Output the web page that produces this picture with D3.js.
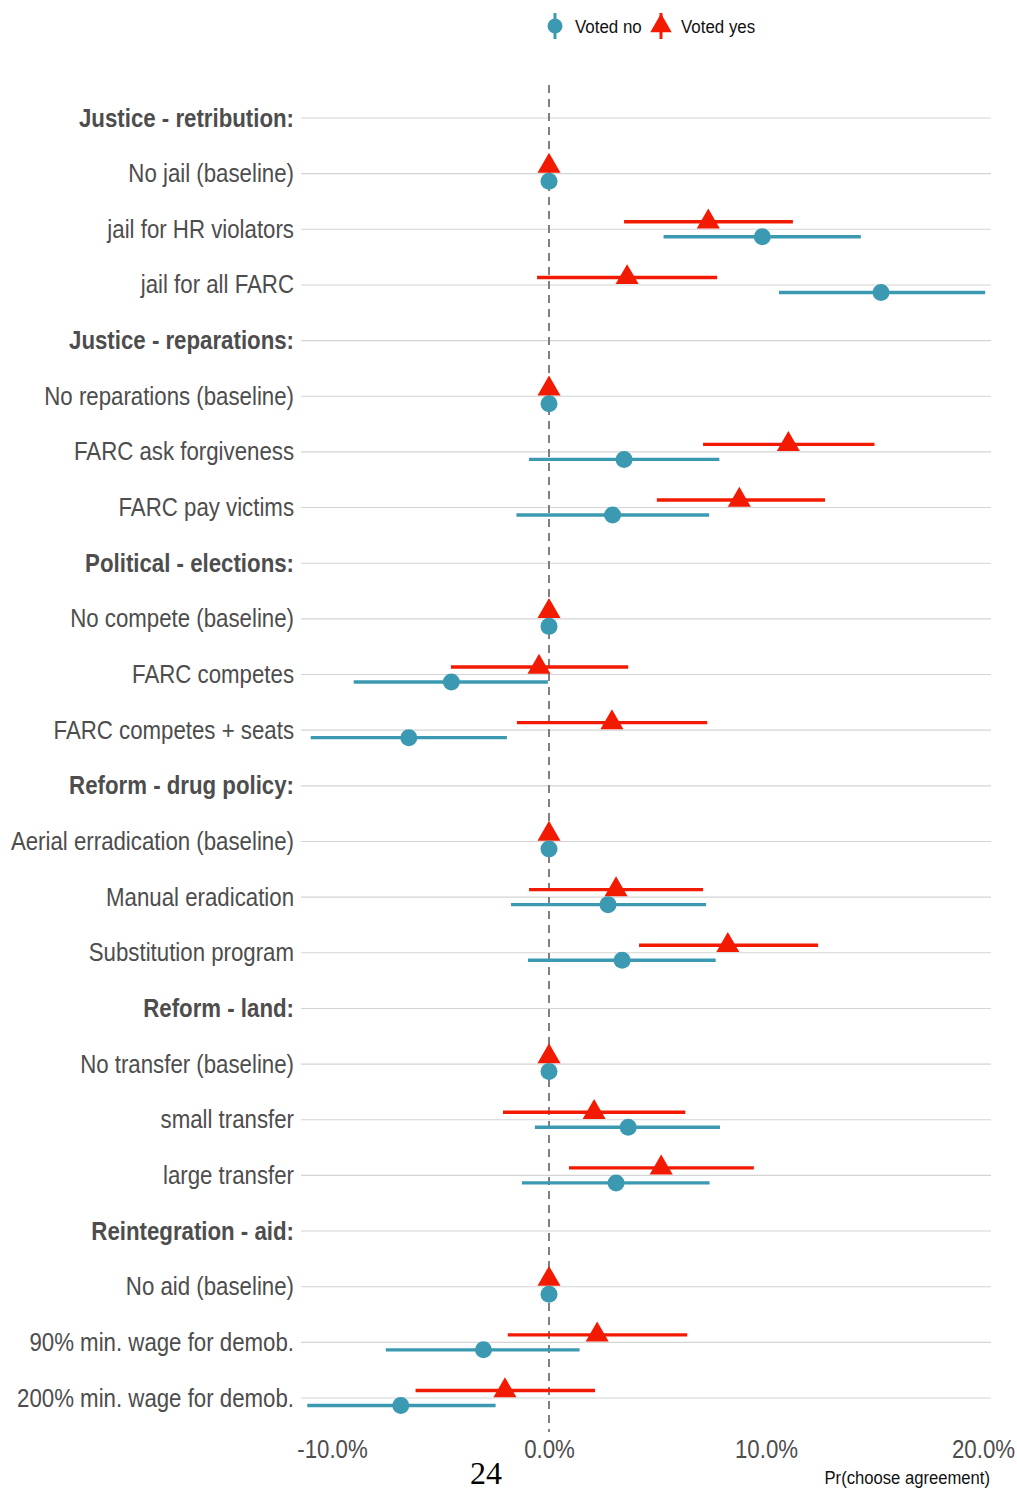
<!DOCTYPE html>
<html lang="en">
<head>
    <meta charset="UTF-8">
    <title>Pr(choose agreement) by vote</title>
    <script src="https://d3js.org/d3.v7.min.js"></script>
    <style>
        body {
            margin: 0;
            background-color: #ffffff;
        }
        svg text {
            font-family: "Liberation Sans Narrow", "Arial Narrow", "Liberation Sans", Arial, sans-serif;
        }
        .axis-y text {
            font-size: 25px;
            fill: #4d4d4d;
        }
        .axis-y .header {
            font-weight: bold;
        }
        .axis-x text {
            font-size: 25px;
            fill: #4d4d4d;
        }
        .grid line {
            stroke: #d4d4d4;
            stroke-width: 1.1;
        }
        .legend text {
            font-size: 19px;
            fill: #111111;
        }
    </style>
</head>
<body>
    <svg id="chart" width="1017" height="1491"></svg>

    <script>
        // rows of the chart, top to bottom (headers end with ":")
        const categories = [
            "Justice - retribution:", "No jail (baseline)", "jail for HR violators", "jail for all FARC",
            "Justice - reparations:", "No reparations (baseline)", "FARC ask forgiveness", "FARC pay victims",
            "Political - elections:", "No compete (baseline)", "FARC competes", "FARC competes + seats",
            "Reform - drug policy:", "Aerial erradication (baseline)", "Manual eradication", "Substitution program",
            "Reform - land:", "No transfer (baseline)", "small transfer", "large transfer",
            "Reintegration - aid:", "No aid (baseline)", "90% min. wage for demob.", "200% min. wage for demob."
        ];

        // Voted no (estimates and 95% interval, in %)
        const noEst = [null, 0, 9.83, 15.3, null, 0, 3.46, 2.93, null, 0, -4.5, -6.46,
                       null, 0, 2.72, 3.37, null, 0, 3.65, 3.09, null, 0, -3.02, -6.83];
        const noLo  = [null, 0, 5.28, 10.6, null, 0, -0.92, -1.5, null, 0, -9.0, -10.98,
                       null, 0, -1.75, -0.97, null, 0, -0.65, -1.25, null, 0, -7.52, -11.14];
        const noHi  = [null, 0, 14.37, 20.1, null, 0, 7.85, 7.38, null, 0, -0.05, -1.94,
                       null, 0, 7.24, 7.68, null, 0, 7.88, 7.4, null, 0, 1.41, -2.46];

        // Voted yes
        const yesEst = [null, 0, 7.34, 3.6, null, 0, 11.03, 8.77, null, 0, -0.46, 2.9,
                        null, 0, 3.09, 8.24, null, 0, 2.08, 5.17, null, 0, 2.22, -2.03];
        const yesLo  = [null, 0, 3.46, -0.55, null, 0, 7.1, 4.97, null, 0, -4.52, -1.48,
                        null, 0, -0.92, 4.15, null, 0, -2.12, 0.92, null, 0, -1.9, -6.15];
        const yesHi  = [null, 0, 11.24, 7.75, null, 0, 15.0, 12.72, null, 0, 3.65, 7.29,
                        null, 0, 7.1, 12.4, null, 0, 6.28, 9.44, null, 0, 6.37, 2.12];

        const xTicks = [-10, 0, 10, 20];
        const seriesNames = ["Voted no", "Voted yes"];
        const colors = {no: "#3B9AB2", yes: "#F21A00"};

        // no narrow font installed: squeeze the regular one horizontally
        const squeeze = 0.89;
        function narrow(sel, x0) {
            sel.attr("x", x0 / squeeze)
                .attr("transform", `scale(${squeeze},1)`);
        }

        const svg = d3.select("#chart");

        const x = d3.scaleLinear().domain([-10, 20]).range([332, 983]);
        const y = d3.scalePoint().domain(categories).range([118, 1398]);
        const dodge = 7.5;

        // horizontal grid lines
        svg.append("g")
            .attr("class", "grid")
            .selectAll("line")
            .data(categories)
          .enter().append("line")
            .attr("x1", 301)
            .attr("x2", 991)
            .attr("y1", d => y(d))
            .attr("y2", d => y(d));

        // zero line
        svg.append("line")
            .attr("x1", x(0)).attr("x2", x(0))
            .attr("y1", 85).attr("y2", 1432)
            .attr("stroke", "#7f7f7f")
            .attr("stroke-width", 2)
            .attr("stroke-dasharray", "8,6");

        // y axis labels
        const yAxis = svg.append("g")
            .attr("class", "axis-y")
            .attr("transform", "translate(301,0)")
            .call(d3.axisLeft(y).tickSize(0).tickPadding(7));
        yAxis.select(".domain").remove();
        yAxis.selectAll(".tick text")
            .classed("header", d => d.endsWith(":"))
            .call(narrow, -7);

        // x axis labels
        const xAxis = svg.append("g")
            .attr("class", "axis-x")
            .attr("transform", "translate(0,1432)")
            .call(d3.axisBottom(x).tickValues(xTicks).tickSize(0).tickPadding(8)
                .tickFormat(d => d.toFixed(1) + "%"));
        xAxis.select(".domain").remove();
        xAxis.selectAll(".tick text").call(narrow, 0);

        const rows = categories.map((c, i) => ({
            cat: c, noEst: noEst[i], noLo: noLo[i], noHi: noHi[i],
            yesEst: yesEst[i], yesLo: yesLo[i], yesHi: yesHi[i]
        })).filter(d => d.noEst !== null);

        const triangle = d3.symbol().type(d3.symbolTriangle).size(230);

        // Voted yes (red, upper)
        const gYes = svg.append("g");
        gYes.selectAll("line")
            .data(rows)
          .enter().append("line")
            .attr("x1", d => x(d.yesLo))
            .attr("x2", d => x(d.yesHi))
            .attr("y1", d => y(d.cat) - dodge)
            .attr("y2", d => y(d.cat) - dodge)
            .attr("stroke", colors.yes)
            .attr("stroke-width", 3.4);
        gYes.selectAll("path")
            .data(rows)
          .enter().append("path")
            .attr("d", triangle)
            .attr("transform", d => `translate(${x(d.yesEst)},${y(d.cat) - dodge})`)
            .attr("fill", colors.yes);

        // Voted no (blue, lower)
        const gNo = svg.append("g");
        gNo.selectAll("line")
            .data(rows)
          .enter().append("line")
            .attr("x1", d => x(d.noLo))
            .attr("x2", d => x(d.noHi))
            .attr("y1", d => y(d.cat) + dodge)
            .attr("y2", d => y(d.cat) + dodge)
            .attr("stroke", colors.no)
            .attr("stroke-width", 3.4);
        gNo.selectAll("circle")
            .data(rows)
          .enter().append("circle")
            .attr("cx", d => x(d.noEst))
            .attr("cy", d => y(d.cat) + dodge)
            .attr("r", 8.5)
            .attr("fill", colors.no);

        // legend
        const legend = svg.append("g").attr("class", "legend");
        const lNo = legend.append("g").attr("transform", "translate(555,26)");
        lNo.append("line").attr("y1", -13).attr("y2", 13)
            .attr("stroke", colors.no).attr("stroke-width", 3);
        lNo.append("circle").attr("r", 7.5).attr("fill", colors.no);
        lNo.append("text").attr("dy", "0.35em").text(seriesNames[0]).call(narrow, 20);

        const lYes = legend.append("g").attr("transform", "translate(661,26)");
        lYes.append("line").attr("y1", -13).attr("y2", 13)
            .attr("stroke", colors.yes).attr("stroke-width", 3);
        lYes.append("path").attr("d", d3.symbol().type(d3.symbolTriangle).size(200)())
            .attr("fill", colors.yes);
        lYes.append("text").attr("dy", "0.35em").text(seriesNames[1]).call(narrow, 20);

        // x axis title and page number
        svg.append("text")
            .attr("y", 1484)
            .attr("text-anchor", "end")
            .style("font-size", "18.7px")
            .style("fill", "#111111")
            .text("Pr(choose agreement)")
            .call(narrow, 990);

        svg.append("text")
            .attr("x", 486)
            .attr("y", 1484)
            .attr("text-anchor", "middle")
            .style("font-family", "'Liberation Serif', 'Times New Roman', serif")
            .style("font-size", "32px")
            .style("fill", "#000000")
            .text("24");
    </script>
</body>
</html>
